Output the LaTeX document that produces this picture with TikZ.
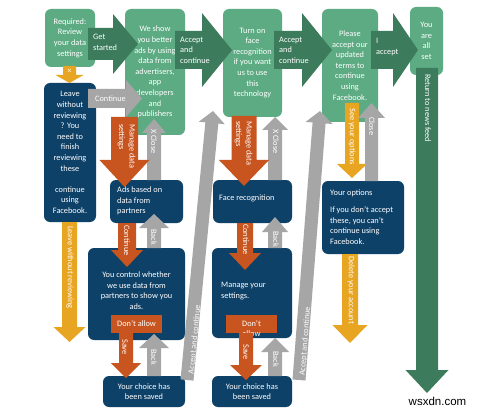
\documentclass[tikz,border=0pt]{standalone}
\usepackage{fontspec}
\setmainfont{Carlito}
\newfontfamily\wmfont{Liberation Sans}
\usetikzlibrary{calc}
\definecolor{lgreen}{RGB}{92,171,131}
\definecolor{dgreen}{RGB}{60,124,92}
\definecolor{navy}{RGB}{14,65,104}
\definecolor{orng}{RGB}{200,85,31}
\definecolor{yell}{RGB}{232,165,34}
\definecolor{gry}{RGB}{166,166,166}
\tikzset{
  txt/.style={text=white, font=\fontsize{8.3}{10.6}\selectfont, inner sep=0pt},
  gbox/.style={fill=lgreen, rounded corners=6pt, txt, align=center},
  nbox/.style={fill=navy, rounded corners=6pt, txt, align=center},
  obox/.style={fill=orng, txt, align=center},
  vlab/.style={txt, rotate=-90, anchor=west, align=left},
  hlab/.style={txt, anchor=west, align=left},
}
\newcommand\blockarrow[6]{%
  \coordinate (ba-a) at (#2);
  \coordinate (ba-b) at (#3);
  \coordinate (ba-c) at ($(ba-b)!#6!(ba-a)$);
  \fill[#1] ($(ba-a)!#4!90:(ba-b)$) -- ($(ba-c)!#4!90:(ba-b)$) -- ($(ba-c)!#5!90:(ba-b)$) -- (ba-b) -- ($(ba-c)!#5!-90:(ba-b)$) -- ($(ba-c)!#4!-90:(ba-b)$) -- ($(ba-a)!#4!-90:(ba-b)$) -- cycle;
}
\begin{document}
\begin{tikzpicture}[x=1pt,y=-1pt]
\fill[white] (0,0) rectangle (480,412);
\useasboundingbox (0,0) rectangle (480,412);
% green boxes
\node[gbox, minimum width=50pt, minimum height=58pt] (b1) at (70,38) {Required:\\Review\\your data\\settings};
\node[gbox, minimum width=60pt, minimum height=126pt] (b2) at (155,72) {We show\\you better\\ads by using\\data from\\advertisers,\\app\\developers\\and\\publishers};
\node[gbox, minimum width=59pt, minimum height=108pt] (b3) at (252.5,63) {Turn on\\face\\recognition\\if you want\\us to use\\this\\technology};
\node[gbox, minimum width=56pt, minimum height=113pt] (b4) at (350,65.5) {Please\\accept our\\updated\\terms to\\continue\\using\\Facebook.};
\node[gbox, minimum width=33pt, minimum height=68pt] (b5) at (426.5,41) {You\\are\\all\\set};
% navy boxes
\node[nbox, minimum width=52pt, minimum height=139pt] (n1) at (70,152.5) {Leave\\without\\reviewing\\? You\\need to\\finish\\reviewing\\these\\\mbox{}\\continue\\using\\Facebook.};
\node[nbox, minimum width=73pt, minimum height=43pt] (n2) at (146.5,201.5) {};
\node[nbox, minimum width=97pt, minimum height=92pt] (n3) at (136.5,294) {};
\node[nbox, minimum width=82pt, minimum height=31pt] (n4) at (144,391.5) {Your choice has\\been saved};
\node[nbox, minimum width=79pt, minimum height=43pt] (n5) at (252.5,201.5) {};
\node[nbox, minimum width=80pt, minimum height=90pt] (n6) at (252,293) {};
\node[nbox, minimum width=80pt, minimum height=31pt] (n7) at (252,391.5) {Your choice has\\been saved};
\node[nbox, minimum width=82pt, minimum height=73pt] (n8) at (363,217.5) {};
\node[hlab] (t2) at (117,201) {Ads based on\\data from\\partners};
\node[hlab] (t5) at (219,198) {Face recognition};
\node[txt, align=center] (t3) at (136.5,290.5) {You control whether\\we use data from\\partners to show you\\ads.};
\node[hlab] (t6) at (221,291) {Manage your\\settings.};
\node[hlab] (t8) at (330,217) {Your options\\[7pt]If you don’t accept\\these, you can’t\\continue using\\Facebook.};
% orange small boxes
\node[obox, minimum width=51pt, minimum height=18pt] (o1) at (136.5,324) {Don’t allow};
\node[obox, minimum width=51pt, minimum height=18pt] (o2) at (251.5,324) {};
\node[txt, align=center] (o2t) at (251.5,328.5) {Don’t\\allow};
% dark green arrows
\blockarrow{dgreen}{88,44}{138,44}{16pt}{30pt}{25pt}
\blockarrow{dgreen}{175,50}{232,50}{19pt}{37pt}{30pt}
\blockarrow{dgreen}{274,50}{332,50}{19pt}{37pt}{30pt}
\blockarrow{dgreen}{371,50}{418,50}{19pt}{37pt}{25pt}
\blockarrow{dgreen}{427,68}{427,393}{11pt}{21.5pt}{23pt}
% yellow arrows
\blockarrow{yell}{69.5,66}{69.5,83}{6.5pt}{14pt}{8pt}
\blockarrow{yell}{69.5,222}{69.5,342}{7.5pt}{16pt}{15pt}
\blockarrow{yell}{352,103}{352,178}{7pt}{15pt}{14pt}
\blockarrow{yell}{350,254}{350,343}{8pt}{17.5pt}{18pt}
% gray arrows
\blockarrow{gry}{88,98.5}{142,98.5}{9.5pt}{18.5pt}{16pt}
\blockarrow{gry}{154,180}{154,119}{7pt}{12pt}{14pt}
\blockarrow{gry}{154,248}{154,214}{7pt}{15pt}{14pt}
\blockarrow{gry}{154,376}{154,334}{7pt}{15pt}{14pt}
\blockarrow{gry}{275,180}{275,117}{7pt}{13pt}{13pt}
\blockarrow{gry}{275,248}{275,217}{7pt}{13pt}{15pt}
\blockarrow{gry}{275,376}{275,338}{7pt}{14pt}{14pt}
\blockarrow{gry}{371.5,181}{371.5,103}{6.5pt}{13.5pt}{15pt}
\blockarrow{gry}{187,380}{213,111}{6.5pt}{13pt}{12pt}
\blockarrow{gry}{299,380}{320,111}{6.5pt}{13.5pt}{12pt}
% orange arrows
\blockarrow{orng}{124.5,117}{124.5,187}{13.5pt}{25pt}{27pt}
\blockarrow{orng}{127,223}{127,267}{9pt}{16pt}{17pt}
\blockarrow{orng}{126,333}{126,378}{7pt}{15pt}{15pt}
\blockarrow{orng}{244,116}{244,186}{12.5pt}{25pt}{26pt}
\blockarrow{orng}{245,223}{245,270}{8pt}{16pt}{17pt}
\blockarrow{orng}{246,333}{246,380}{7pt}{16pt}{15pt}
% arrow labels
\node[hlab] (l1) at (93,42.5) {Get\\started};
\node[hlab] (l2) at (180,50) {Accept\\and\\continue};
\node[hlab] (l3) at (279,50) {Accept\\and\\continue};
\node[hlab] (l4) at (376,47) {I\\accept};
\node[vlab] (l5) at (428,74) {Return to news feed};
\node[txt] (l6) at (69.5,71.5) {×};
\node[vlab] (l7) at (70,226) {Leave without reviewing};
\node[vlab] (l8) at (352,108) {See your options};
\node[vlab] (l9) at (351,256) {Delete your account};
\node[hlab] (l10) at (95,98.5) {Continue};
\node[vlab] (l11) at (126.5,124) {Manage data\\settings};
\node[vlab] (l12) at (154,129) {X Close};
\node[vlab] (l13) at (127,225) {Continue};
\node[vlab] (l14) at (154,229) {Back};
\node[vlab] (l15) at (125,339) {Save};
\node[vlab] (l16) at (154,349) {Back};
\node[vlab] (l17) at (243.5,121) {Manage data\\settings};
\node[vlab] (l18) at (276,129) {X Close};
\node[vlab] (l19) at (246,224) {Continue};
\node[vlab] (l20) at (276,231) {Back};
\node[vlab] (l21) at (246,344) {Save};
\node[vlab] (l22) at (276,351) {Back};
\node[vlab] (l23) at (372,117) {Close};
\node[txt, rotate=84.5, anchor=west] (l24) at (191.5,374) {Accept and continue};
\node[txt, rotate=85.5, anchor=west] (l25) at (302.5,376) {Accept and continue};
% watermark
\node[inner sep=0pt, font=\wmfont\fontsize{11.5}{12}\selectfont] (wm) at (437.5,401) {wsxdn.com};
\end{tikzpicture}
\end{document}
